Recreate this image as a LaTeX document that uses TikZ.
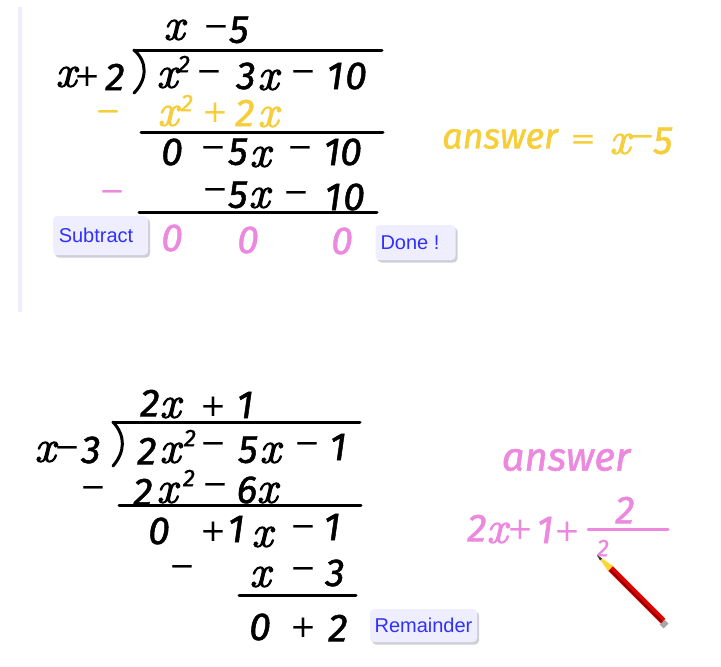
\documentclass[tikz,border=0pt]{standalone}
\usepackage{fontspec}
\setmainfont{Fira Sans}
\newfontfamily\btnfont{Liberation Sans}
\newfontfamily\hand{Fira Sans Italic}[FakeBold=1.3]
\newfontfamily\handx{lmroman10-italic}[Extension=.otf,FakeBold=2.2]
\newfontfamily\handop{DejaVu Sans}
\usetikzlibrary{shadows}
\definecolor{ansyel}{HTML}{F5CE3A}
\definecolor{anspink}{HTML}{EC88DE}
\definecolor{btnfill}{HTML}{EEEEFF}
\definecolor{btntext}{HTML}{3030FF}
\definecolor{btnshade}{HTML}{CFCFD6}
\tikzset{
  hw/.style={inner sep=0pt,font=\hand\fontsize{39}{39}\selectfont},
  hword/.style={inner sep=0pt,font=\hand\fontsize{#1}{#1}\selectfont},
  hx/.style={inner sep=0pt,font=\handx\fontsize{45}{45}\selectfont},
  hop/.style={inner sep=0pt,font=\handop\fontsize{31}{31}\selectfont},
  sup/.style={inner sep=0pt,font=\hand\fontsize{24}{24}\selectfont},
  ye/.style={text=ansyel},
  pk/.style={text=anspink},
  bar/.style={line width=3pt,line cap=round,black},
  btn/.style={rounded corners=4pt,fill=btnfill,text=btntext,inner sep=0pt,
    font=\btnfont\fontsize{20}{20}\selectfont,
    drop shadow={shadow xshift=2pt,shadow yshift=-2.5pt,fill=btnshade,opacity=1}},
}
\begin{document}
\begin{tikzpicture}[x=1pt,y=-1pt]
\useasboundingbox (0,0) rectangle (721,667);
\fill[btnfill] (18,7) rectangle (22,312);
% problem 1
\node[hx] (a1) at (174,30) {x};
\node[hop] (a2) at (216,31) {−};
\node[hw] (a3) at (239,30) {5};
\draw[bar] (134,50) -- (382,50);
\draw[bar] (134,50) .. controls (148,62) and (147,80) .. (134,93);
\node[hx] (b1) at (66,77) {x};
\node[hop] (b2) at (87,77) {+};
\node[hw] (b3) at (115,77) {2};
\node[hx] (b4) at (167,78) {x};
\node[sup] (b5) at (184,64) {2};
\node[hop] (b6) at (209,76) {−};
\node[hw] (b7) at (246,76) {3};
\node[hx] (b8) at (268,80) {x};
\node[hop] (b9) at (303,76) {−};
\node[hw] (b10) at (335,76) {1};
\node[hw] (b11) at (356,76) {0};
\node[hop,ye] (c1) at (108,116) {−};
\node[hx,ye] (c2) at (168,116) {x};
\node[sup,ye] (c3) at (187,103) {2};
\node[hop,ye] (c4) at (215,113) {+};
\node[hw,ye] (c5) at (245,113) {2};
\node[hx,ye] (c6) at (268,117) {x};
\draw[bar] (141,132) -- (383,132);
\node[hw] (d1) at (172,152) {0};
\node[hop] (d2) at (213,152) {−};
\node[hw] (d3) at (238,152) {5};
\node[hx] (d4) at (260,157) {x};
\node[hop] (d5) at (300,152) {−};
\node[hw] (d6) at (332,152) {1};
\node[hw] (d7) at (351,152) {0};
\node[hop,pk] (e1) at (112,196) {−};
\node[hop] (e2) at (215,194) {−};
\node[hw] (e3) at (238,195) {5};
\node[hx] (e4) at (259,198) {x};
\node[hop] (e5) at (296,197) {−};
\node[hw] (e6) at (333,197) {1};
\node[hw] (e7) at (354,197) {0};
\draw[bar] (139,212) -- (377,212);
\node[btn,minimum width=95pt,minimum height=39pt] (sub) at (100.5,235.5) {\hspace*{-9pt}Subtract};
\node[hw,pk] (f1) at (172,238) {0};
\node[hw,pk] (f2) at (248,240) {0};
\node[hw,pk] (f3) at (342,241) {0};
\node[btn,minimum width=80pt,minimum height=35pt] (done) at (415.5,242.5) {\hspace*{-11pt}Done !};
\node[hword=36,ye] (ans1) at (500,139) {answer};
\node[hop,ye] (ans2) at (583,142) {=};
\node[hx,ye] (ans3) at (620,144) {x};
\node[hop,ye] (ans4) at (642,141) {−};
\node[hw,ye] (ans5) at (663,141) {5};
% problem 2
\node[hw] (g1) at (150,403) {2};
\node[hx] (g2) at (170,408) {x};
\node[hop] (g3) at (213,407) {+};
\node[hw] (g4) at (245,405) {1};
\draw[bar] (113,422) -- (360,422);
\draw[bar] (113,422) .. controls (126,436) and (125,452) .. (113,466);
\node[hx] (h1) at (45,452) {x};
\node[hop] (h2) at (67,452) {−};
\node[hw] (h3) at (91,450) {3};
\node[hw] (h4) at (147,451) {2};
\node[hx] (h5) at (170,453) {x};
\node[sup] (h6) at (190,438) {2};
\node[hop] (h7) at (213,448) {−};
\node[hw] (h8) at (248,450) {5};
\node[hx] (h9) at (270,453) {x};
\node[hop] (h10) at (307,448) {−};
\node[hw] (h11) at (338,447) {1};
\node[hop] (i1) at (93,492) {−};
\node[hw] (i2) at (143,492) {2};
\node[hx] (i3) at (167,493) {x};
\node[sup] (i4) at (189,478) {2};
\node[hop] (i5) at (215,489) {−};
\node[hw] (i6) at (247,490) {6};
\node[hx] (i7) at (267,493) {x};
\draw[bar] (119,505) -- (361,505);
\node[hw] (j1) at (159,531) {0};
\node[hop] (j2) at (213,532) {+};
\node[hw] (j3) at (236,529) {1};
\node[hx] (j4) at (262,537) {x};
\node[hop] (j5) at (303,531) {−};
\node[hw] (j6) at (332,527) {1};
\node[hop] (k1) at (182,571) {−};
\node[hx] (k2) at (260,577) {x};
\node[hop] (k3) at (303,573) {−};
\node[hw] (k4) at (335,573) {3};
\draw[bar] (239,595) -- (356,595);
\node[hw] (l1) at (260,627) {0};
\node[hop] (l2) at (303,628) {+};
\node[hw] (l3) at (338,628) {2};
\node[btn,minimum width=107pt,minimum height=33pt] (rem) at (423.5,625.5) {Remainder};
\node[hword=40,pk] (m1) at (566,460) {answer};
\node[hw,pk] (m2) at (477,528) {2};
\node[hx,pk] (m3) at (497,533) {x};
\node[hop,pk] (m4) at (520,530) {+};
\node[hw,pk] (m5) at (545,530) {1};
\node[hop,pk] (m6) at (567,532) {+};
\draw[line width=3pt,line cap=round,anspink] (588,529) -- (668,529);
\node[hw,pk] (m7) at (625,510) {2};
\node[sup,pk] (m8) at (603,548) {2};
% pencil
\draw[line width=7pt,gray!70] (662,622) -- (666,626);
\draw[line width=6.5pt,red!90!black] (610,568) -- (663,621);
\draw[line width=2pt,red!55!black] (610,570) -- (662,622);
\fill[orange!40!yellow!80] (597,555) -- (613,566) -- (608,571) -- cycle;
\fill[black!80] (597,555) -- (602,558.5) -- (600,560.5) -- cycle;
\end{tikzpicture}
\end{document}
